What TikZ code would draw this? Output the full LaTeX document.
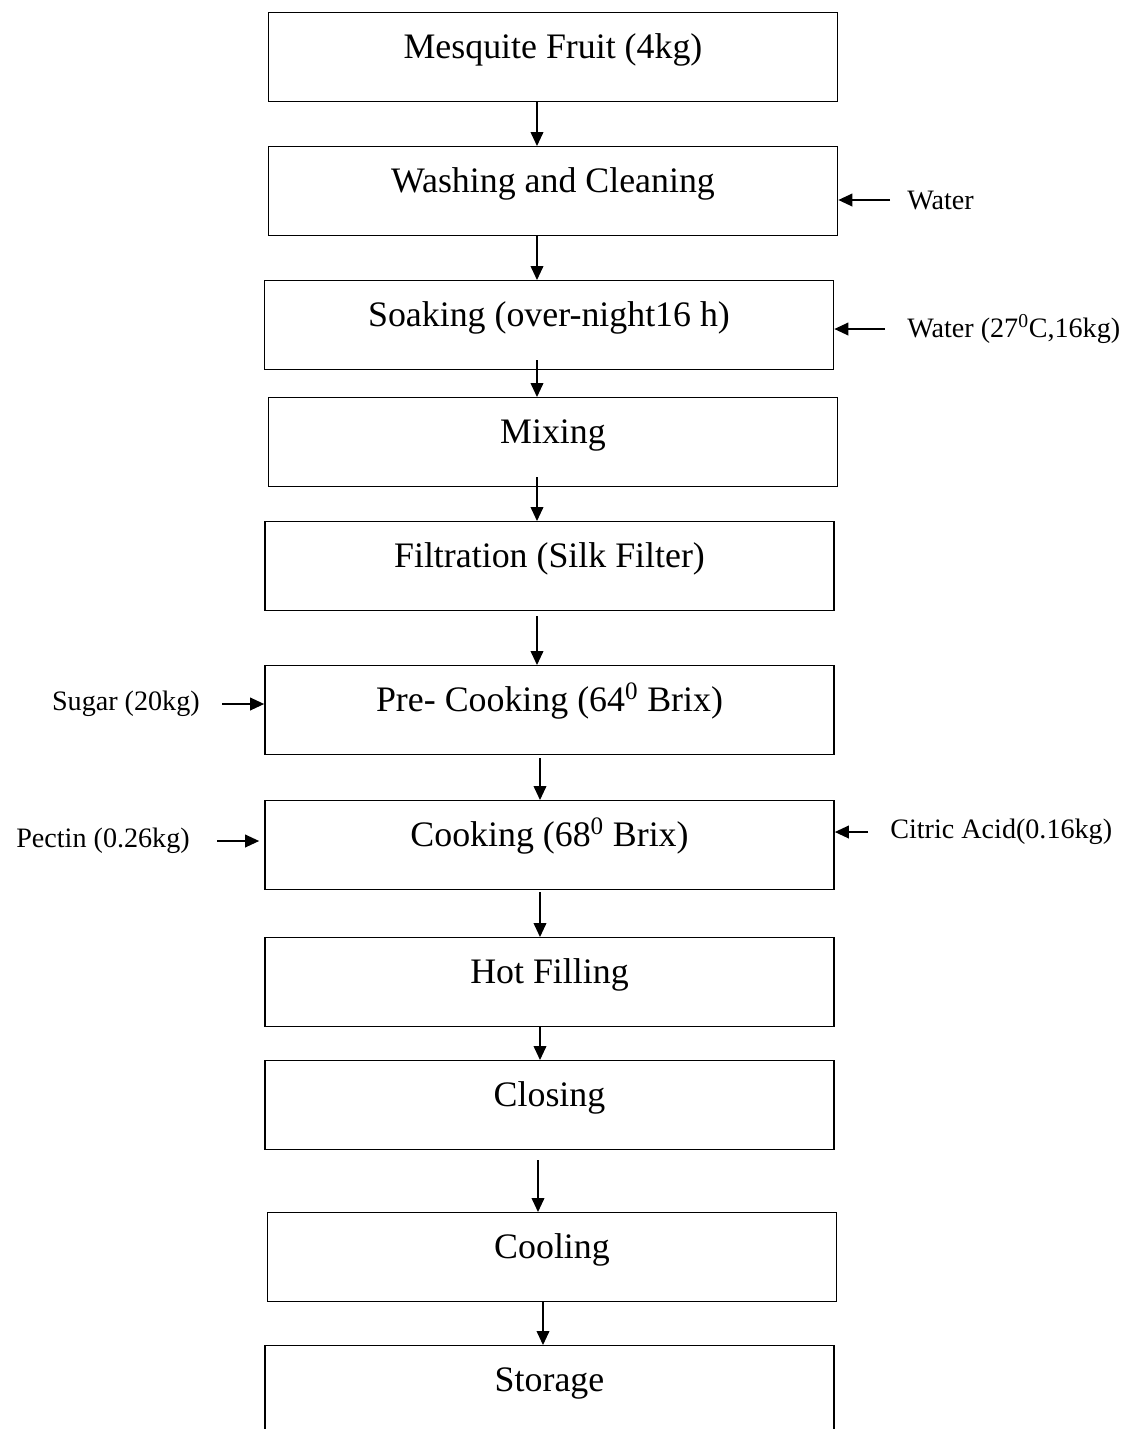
\documentclass[tikz,border=0pt]{standalone}
\usepackage{fontspec}
\setmainfont{Liberation Serif}
\usetikzlibrary{arrows.meta,calc}

\tikzset{
  stage/.style={draw, line width=1pt, anchor=north, minimum width=14.23cm,
    inner xsep=0pt, inner ysep=0pt, text height=1.15cm, text depth=1.07cm,
    font=\fontsize{25.5}{30}\selectfont},
  feed/.style={inner ysep=0pt, font=\fontsize{20}{24}\selectfont},
  arr/.style={line width=0.9pt, -{Triangle[length=0.35cm,width=0.32cm]}}
}

\begin{document}
\begin{tikzpicture}[x=0.025cm, y=-0.025cm]
\useasboundingbox (0,0) rectangle (1131,1429);

\node[stage] (fruit)   at (553,12)     {Mesquite Fruit (4kg)};
\node[stage] (wash)    at (553,146)    {Washing and Cleaning};
\node[stage] (soak)    at (549,280)    {Soaking (over-night16 h)};
\node[stage] (mix)     at (553,397)    {Mixing};
\node[stage] (filt)    at (549.5,521)  {Filtration (Silk Filter)};
\node[stage] (precook) at (549.5,665)  {Pre- Cooking (64\textsuperscript{0} Brix)};
\node[stage] (cook)    at (549.5,800)  {Cooking (68\textsuperscript{0} Brix)};
\node[stage] (fill)    at (549.5,937)  {Hot Filling};
\node[stage] (close)   at (549.5,1060) {Closing};
\node[stage] (cool)    at (552,1212)   {Cooling};
\node[stage] (store)   at (549.5,1345) {Storage};

\foreach \a/\b/\x/\d in {fruit/wash/537/0, wash/soak/537/0, soak/mix/537/-10,
    mix/filt/537/-10, filt/precook/537/5, precook/cook/540/3, cook/fill/540/2,
    fill/close/540/0, close/cool/538/10, cool/store/543/0}{
  \coordinate (ax) at (\x,0);
  \draw[arr] ($(\a.south -| ax)+(0,\d)$) -- (\b.north -| ax);
}

\node[feed, anchor=west, inner xsep=0.425cm] (water)   at (890,200) {Water};
\node[feed, anchor=west, inner xsep=0.55cm]  (water27) at (885,329) {Water (27\textsuperscript{0}C,16kg)};
\node[feed, anchor=east, inner xsep=0.55cm]  (sugar)   at (222,704) {Sugar (20kg)};
\node[feed, anchor=east, inner xsep=0.675cm] (pectin)  at (217,841) {Pectin (0.26kg)};
\node[feed, anchor=west, inner xsep=0.55cm]  (citric)  at (868,832) {Citric Acid(0.16kg)};

\draw[arr] (water.west) -- (water.west -| wash.east);
\draw[arr] (water27.west) -- (water27.west -| soak.east);
\draw[arr] (sugar.east) -- (sugar.east -| precook.west);
\draw[arr, shorten >=0.125cm] (pectin.east) -- (pectin.east -| cook.west);
\draw[arr] (citric.west) -- (citric.west -| cook.east);
\end{tikzpicture}
\end{document}
